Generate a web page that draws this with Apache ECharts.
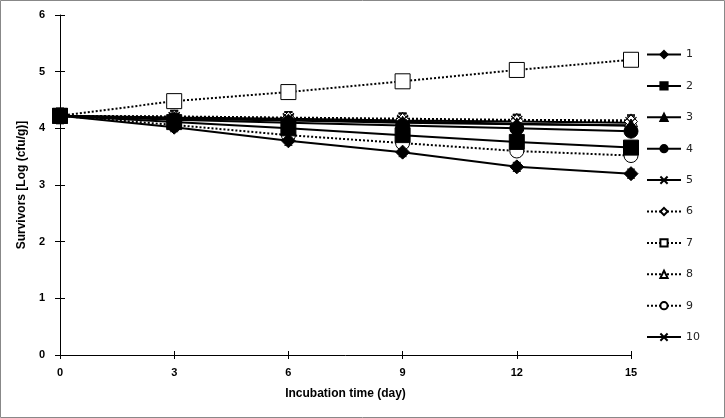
<!DOCTYPE html>
<html><head><meta charset="utf-8">
<script src="https://cdn.jsdelivr.net/npm/echarts@6/dist/echarts.min.js"></script>
<style>html,body{margin:0;padding:0;background:#fff}#c{width:725px;height:418px}</style>
</head><body><div id="c"></div>
<script>
const days = [0, 3, 6, 9, 12, 15];
const yTicks = [0, 1, 2, 3, 4, 5, 6];
const names = ['1','2','3','4','5','6','7','8','9','10'];
const s1  = [4.22, 4.02, 3.78, 3.58, 3.32, 3.20];
const s2  = [4.22, 4.11, 4.00, 3.88, 3.76, 3.66];
const s3  = [4.22, 4.17, 4.14, 4.10, 4.07, 4.05];
const s4  = [4.22, 4.15, 4.10, 4.05, 4.00, 3.95];
const s5  = [4.22, 4.19, 4.17, 4.14, 4.12, 4.10];
const s6  = [4.22, 4.20, 4.18, 4.15, 4.13, 4.12];
const s7  = [4.22, 4.48, 4.64, 4.83, 5.03, 5.21];
const s8  = [4.22, 4.21, 4.19, 4.17, 4.15, 4.14];
const s9  = [4.22, 4.06, 3.88, 3.74, 3.60, 3.52];
const s10 = [4.22, 4.18, 4.15, 4.12, 4.08, 4.05];
const e1  = [0.08, 0.08, 0.08, 0.08, 0.08, 0.08];
const e2  = [0.08, 0.08, 0.08, 0.08, 0.08, 0.08];
const e3  = [0.10, 0.10, 0.10, 0.10, 0.10, 0.10];
const e4  = [0.08, 0.08, 0.08, 0.08, 0.08, 0.08];
const e5  = [0.12, 0.12, 0.12, 0.12, 0.12, 0.12];
const e6  = [0.10, 0.10, 0.10, 0.10, 0.10, 0.10];
const e7  = [0.10, 0.10, 0.12, 0.10, 0.10, 0.06];
const e8  = [0.10, 0.10, 0.10, 0.10, 0.10, 0.10];
const e9  = [0.10, 0.10, 0.10, 0.10, 0.10, 0.10];
const e10 = [0.14, 0.14, 0.14, 0.15, 0.15, 0.15];

const values = [s1,s2,s3,s4,s5,s6,s7,s8,s9,s10];
const errors = [e1,e2,e3,e4,e5,e6,e7,e8,e9,e10];
const xPath = 'path://M0,0L10,10M10,0L0,10';
const styles = [
  {sym:'diamond', size:14, fill:'#000', dash:'solid'},
  {sym:'rect', size:15, fill:'#000', dash:'solid'},
  {sym:'triangle', size:13, fill:'#000', dash:'solid'},
  {sym:'circle', size:14, fill:'#000', dash:'solid'},
  {sym:xPath, size:11, fill:'#000', dash:'solid'},
  {sym:'diamond', size:13, fill:'#fff', dash:'dotted'},
  {sym:'rect', size:15, fill:'#fff', dash:'dotted'},
  {sym:'triangle', size:13, fill:'#fff', dash:'dotted'},
  {sym:'circle', size:14, fill:'#fff', dash:'dotted'},
  {sym:xPath, size:11, fill:'#000', dash:'solid'}
];

const series = [];
names.forEach((n, i) => {
  series.push({
    type:'custom', name:n+'_err', silent:true, z:1,
    data: days.map((d, k) => [d, values[i][k], errors[i][k]]),
    renderItem: (params, api) => {
      const x = api.value(0), y = api.value(1), e = api.value(2);
      const top = api.coord([x, y + e]), bot = api.coord([x, y - e]);
      const w = 4;
      return {type:'group', children:[
        {type:'line', shape:{x1:top[0], y1:top[1], x2:bot[0], y2:bot[1]}, style:{stroke:'#000', lineWidth:1}},
        {type:'line', shape:{x1:top[0]-w, y1:top[1], x2:top[0]+w, y2:top[1]}, style:{stroke:'#000', lineWidth:1}},
        {type:'line', shape:{x1:bot[0]-w, y1:bot[1], x2:bot[0]+w, y2:bot[1]}, style:{stroke:'#000', lineWidth:1}}
      ]};
    }
  });
});
names.forEach((n, i) => {
  const st = styles[i];
  const isPath = st.sym === xPath;
  series.push({
    type:'line', name:n, z:3, zlevel:0,
    data: days.map((d, k) => [d, values[i][k]]),
    symbol: st.sym, symbolSize: st.size, showAllSymbol:true,
    lineStyle:{color:'#000', width:2, type:st.dash},
    itemStyle:{color: st.fill, borderColor:'#000', borderWidth: isPath ? 1.2 : 1, opacity:1},
    emphasis:{disabled:true},
    animation:false
  });
});
// draw series 1 on top (reverse order of line series)
const errS = series.slice(0, 10);
const lineS = series.slice(10).reverse();

const chart = echarts.init(document.getElementById('c'), null, {renderer:'canvas'});
const font = 'Liberation Sans, Arial, sans-serif';
chart.setOption({
  animation:false,
  backgroundColor:'#fff',
  textStyle:{fontFamily:font},
  grid:{left:60, right:94, top:15, bottom:63, containLabel:false},
  xAxis:[
    {type:'value', min:0, max:15, interval:3,
     name:'Incubation time (day)', nameLocation:'middle', nameGap:33,
     nameTextStyle:{fontWeight:'bold', fontSize:12, color:'#000', fontFamily:font},
     axisLine:{onZero:false, lineStyle:{color:'#000', width:1}},
     axisTick:{show:true, length:4, lineStyle:{color:'#000'}},
     axisLabel:{fontWeight:'bold', fontSize:11, color:'#000', margin:12, fontFamily:font},
     splitLine:{show:false}},
    {type:'value', min:0, max:15, interval:3, position:'bottom',
     axisLine:{show:false}, axisTick:{show:true, inside:true, length:4, lineStyle:{color:'#000'}},
     axisLabel:{show:false}, splitLine:{show:false}}
  ],
  yAxis:[
    {type:'value', min:0, max:6, interval:1,
     name:'Survivors [Log (cfu/g)]', nameLocation:'middle', nameGap:27, nameRotate:90,
     nameTextStyle:{fontWeight:'bold', fontSize:12, color:'#000', fontFamily:font},
     axisLine:{show:true, lineStyle:{color:'#000', width:1}},
     axisTick:{show:true, length:5, lineStyle:{color:'#000'}},
     axisLabel:{fontWeight:'bold', fontSize:11, color:'#000', margin:15, fontFamily:font},
     splitLine:{show:false}},
    {type:'value', min:0, max:6, interval:1, position:'left',
     axisLine:{show:false}, axisTick:{show:true, inside:true, length:5, lineStyle:{color:'#000'}},
     axisLabel:{show:false}, splitLine:{show:false}}
  ],
  legend:{
    data: names, orient:'vertical', left:641, top:44,
    itemWidth:34, itemHeight:9, itemGap:20.4,
    textStyle:{fontSize:11, color:'#222', fontFamily:'DejaVu Sans, sans-serif', padding:[0,0,0,0]},
    selectedMode:false
  },
  graphic:[{type:'rect', shape:{x:0.5, y:0.5, width:724, height:417}, style:{fill:'none', stroke:'#888', lineWidth:1}, silent:true}],
  series: errS.concat(lineS)
});
</script></body></html>
